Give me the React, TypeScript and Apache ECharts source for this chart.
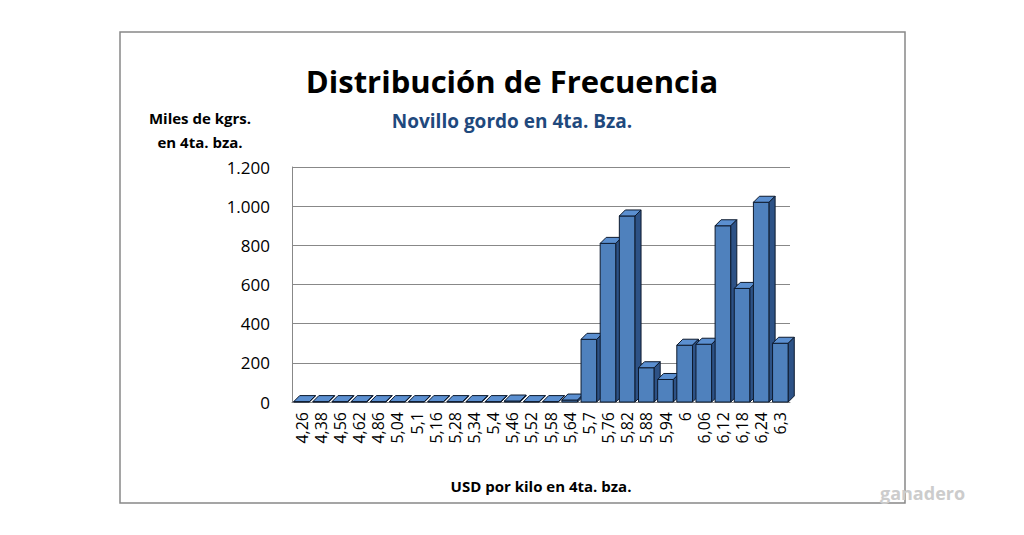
import { useEffect, useRef } from 'react';
import * as echarts from 'echarts';

const categories = ['4,26', '4,38', '4,56', '4,62', '4,86', '5,04', '5,1', '5,16', '5,28', '5,34', '5,4', '5,46', '5,52', '5,58', '5,64', '5,7', '5,76', '5,82', '5,88', '5,94', '6', '6,06', '6,12', '6,18', '6,24', '6,3'];
const values = [2, 2, 2, 2, 2, 2, 2, 2, 2, 2, 2, 5, 2, 2, 10, 320, 810, 950, 175, 115, 290, 295, 900, 580, 1020, 300];

const fmt = (v: number) => (v >= 1000 ? `${Math.floor(v / 1000)}.${String(v % 1000).padStart(3, '0')}` : String(v));

export default function App() {
    const ref = useRef<HTMLDivElement>(null);

    useEffect(() => {
        if (!ref.current) return;
        const chart = echarts.init(ref.current, undefined, { renderer: 'svg' });
        const font = "'Open Sans', 'Noto Sans', sans-serif";
        chart.setOption({
            animation: false,
            textStyle: { fontFamily: font },
            title: [
                { text: 'Distribución de Frecuencia', left: 'center', top: 60, textStyle: { fontSize: 31, fontWeight: 'bold', color: '#000', fontFamily: font } },
                { text: 'Novillo gordo en 4ta. Bza.', left: 'center', top: 106, textStyle: { fontSize: 19, fontWeight: 'bold', color: '#1f497d', fontFamily: font } },
                { text: 'Miles de kgrs.\nen 4ta. bza.', left: 195, top: 101, textAlign: 'center', textStyle: { fontSize: 15, fontWeight: 'bold', color: '#000', lineHeight: 24, fontFamily: font } },
            ],
            graphic: [
                { type: 'rect', shape: { x: 120, y: 32, width: 785, height: 471 }, style: { fill: 'none', stroke: '#888', lineWidth: 1.5 }, z: -1 },
                { type: 'text', x: 880, y: 484, style: { text: 'ganadero', fill: '#ccc', font: "bold 18px 'Open Sans', sans-serif" } },
            ],
            grid: { left: 292, right: 234, top: 167, bottom: 133 },
            xAxis: {
                type: 'category',
                data: categories,
                name: 'USD por kilo en 4ta. bza.',
                nameLocation: 'middle',
                nameGap: 76,
                nameTextStyle: { fontSize: 15, fontWeight: 'bold', color: '#000' },
                axisLine: { lineStyle: { color: '#888' } },
                axisTick: { show: false },
                axisLabel: { rotate: 90, interval: 0, fontSize: 16, color: '#000', margin: 10 },
            },
            yAxis: {
                type: 'value',
                min: 0,
                max: 1200,
                interval: 200,
                axisLabel: { formatter: fmt, fontSize: 17, color: '#000', margin: 22 },
                splitLine: { lineStyle: { color: '#888' } },
                axisLine: { show: true, lineStyle: { color: '#888' } },
            },
            series: [
                {
                    type: 'custom',
                    data: values.map((v, i) => [i, v]),
                    encode: { x: 0, y: 1 },
                    renderItem: (_p: any, api: any) => {
                        const top = api.coord([api.value(0), api.value(1)]);
                        const base = api.coord([api.value(0), 0]);
                        const w = api.size([1, 0])[0] * 0.82;
                        const x0 = top[0] - w / 2;
                        const x1 = top[0] + w / 2;
                        const d = 6;
                        const stroke = { stroke: '#0d1a2e', lineWidth: 1 };
                        return {
                            type: 'group',
                            children: [
                                { type: 'rect', shape: { x: x0, y: top[1], width: w, height: base[1] - top[1] }, style: { fill: '#4f81bd', ...stroke } },
                                { type: 'polygon', shape: { points: [[x0, top[1]], [x0 + d, top[1] - d], [x1 + d, top[1] - d], [x1, top[1]]] }, style: { fill: '#5b8fd0', ...stroke } },
                                { type: 'polygon', shape: { points: [[x1, top[1]], [x1 + d, top[1] - d], [x1 + d, base[1] - d], [x1, base[1]]] }, style: { fill: '#2d5286', ...stroke } },
                            ],
                        };
                    },
                },
            ],
        });
        return () => chart.dispose();
    }, []);

    return <div ref={ref} style={{ position: 'absolute', left: 0, top: 0, width: 1024, height: 535, background: '#fff' }} />;
}
